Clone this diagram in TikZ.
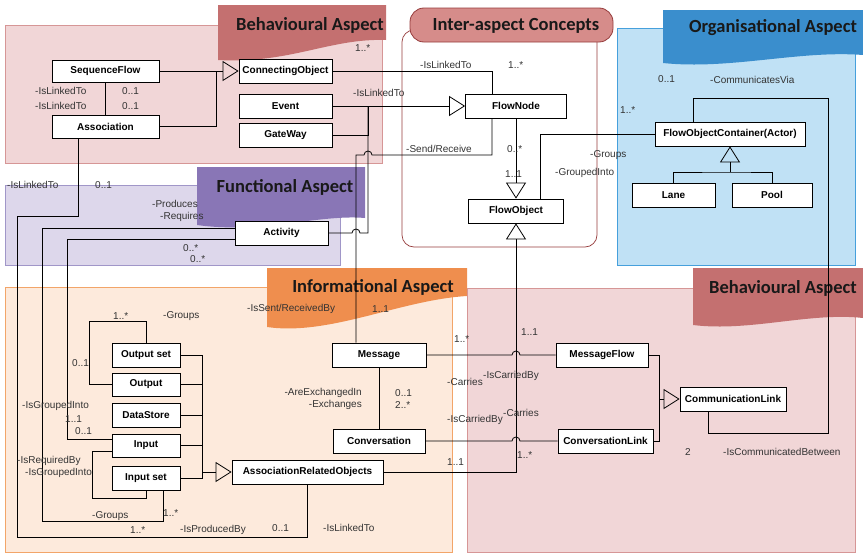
\documentclass[tikz,border=0pt]{standalone}
\usepackage{fontspec}
\setmainfont{Liberation Sans}
\newfontfamily\aspTitleFont{Carlito}
\usetikzlibrary{arrows.meta,calc}

\definecolor{behavFill}{RGB}{241,214,215}
\definecolor{behavEdge}{RGB}{214,150,150}
\definecolor{behavBanner}{RGB}{196,112,112}
\definecolor{interBanner}{RGB}{214,140,138}
\definecolor{interEdge}{RGB}{150,60,60}
\definecolor{orgFill}{RGB}{192,225,245}
\definecolor{orgEdge}{RGB}{70,160,220}
\definecolor{orgBanner}{RGB}{58,142,205}
\definecolor{funcFill}{RGB}{221,215,235}
\definecolor{funcEdge}{RGB}{160,150,200}
\definecolor{funcBanner}{RGB}{137,118,182}
\definecolor{infoFill}{RGB}{253,234,220}
\definecolor{infoEdge}{RGB}{242,165,105}
\definecolor{infoBanner}{RGB}{239,142,78}

\tikzset{
	aspbox/.style={
		draw,
		fill=white,
		line width=0.8pt,
		align=center,
		minimum height=24pt,
		inner sep=1pt,
		font=\fontsize{10}{12}\selectfont\bfseries
	},
	aspLabel/.style={inner sep=0pt, anchor=west, text=black!80, font=\fontsize{10}{12}\selectfont},
	aspTitle/.style={inner sep=0pt, text=black!90, font=\aspTitleFont\bfseries\fontsize{18.5}{20}\selectfont},
	aspPanel/.style={line width=0.6pt},
	aspLink/.style={line width=0.8pt},
	aspGen/.style={aspLink, -{Triangle[open, length=16pt, width=20pt]}}
}

\begin{document}
\begin{tikzpicture}[x=1pt, y=-1pt]
	\useasboundingbox (0,0) rectangle (863,554);

	% Aspect panels
	\filldraw[aspPanel, fill=behavFill, draw=behavEdge] (5,25) rectangle (382,163);
	\fill[behavBanner] (218,5) -- (386,5) -- (386,40) .. controls (330,38) and (290,64) .. (218,60) -- cycle;
	\filldraw[aspPanel, fill=funcFill, draw=funcEdge] (5,185) rectangle (340,265);
	\fill[funcBanner] (197,167) -- (365,167) -- (365,218) .. controls (320,214) and (260,234) .. (197,225) -- cycle;
	\filldraw[aspPanel, fill=orgFill, draw=orgEdge] (617,28) rectangle (855,265);
	\fill[orgBanner] (663,10) -- (863,10) -- (863,55) .. controls (800,50) and (730,70) .. (663,63) -- cycle;
	\filldraw[aspPanel, fill=infoFill, draw=infoEdge] (5,287) rectangle (452,552);
	\fill[infoBanner] (267,268) -- (467,268) -- (467,296) .. controls (400,300) and (330,336) .. (267,327) -- cycle;
	\filldraw[aspPanel, fill=behavFill, draw=behavEdge] (467,288) rectangle (855,552);
	\fill[behavBanner] (693,268) -- (863,268) -- (863,318) .. controls (810,312) and (750,332) .. (693,325) -- cycle;
	\draw[interEdge, line width=0.7pt, rounded corners=12pt] (402,30) rectangle (597,247);
	\filldraw[fill=interBanner, draw=interEdge, line width=0.8pt, rounded corners=14pt] (410,8) rectangle (613,42);

	% Titles
	\node[aspTitle] (tBehavTop) at (310,25) {Behavioural Aspect};
	\node[aspTitle] (tInter) at (516,26) {Inter-aspect Concepts};
	\node[aspTitle] (tOrg) at (773,28) {Organisational Aspect};
	\node[aspTitle] (tFunc) at (285,187) {Functional Aspect};
	\node[aspTitle] (tInfo) at (373,287) {Informational Aspect};
	\node[aspTitle] (tBehavBottom) at (783,288) {Behavioural Aspect};

	% Behavioural aspect (top)
	\node[aspbox, minimum width=107pt, minimum height=22pt] (sequenceFlow) at (105.5,71) {SequenceFlow};
	\node[aspbox, minimum width=107pt, minimum height=23pt] (association) at (105.5,126.5) {Association};
	\node[aspbox, minimum width=93pt] (connectingObject) at (285.5,71) {ConnectingObject};
	\node[aspbox, minimum width=93pt] (event) at (285.5,106) {Event};
	\node[aspbox, minimum width=93pt] (gateWay) at (285.5,135.5) {GateWay};

	% Inter-aspect concepts
	\node[aspbox, minimum width=101pt] (flowNode) at (516,106) {FlowNode};
	\node[aspbox, minimum width=95pt] (flowObject) at (516,211) {FlowObject};

	% Organisational aspect
	\node[aspbox, minimum width=150pt] (container) at (730,134) {FlowObjectContainer(Actor)};
	\node[aspbox, minimum width=83pt] (lane) at (673.5,195) {Lane};
	\node[aspbox, minimum width=80pt] (pool) at (772,195) {Pool};

	% Functional aspect
	\node[aspbox, minimum width=93pt] (activity) at (281.5,233) {Activity};

	% Informational aspect
	\node[aspbox, minimum width=68pt] (outputSet) at (146,355) {Output set};
	\node[aspbox, minimum width=68pt, minimum height=23pt] (output) at (146,384.5) {Output};
	\node[aspbox, minimum width=68pt] (dataStore) at (146,415) {DataStore};
	\node[aspbox, minimum width=68pt, minimum height=23pt] (input) at (146,445.5) {Input};
	\node[aspbox, minimum width=68pt] (inputSet) at (146,478) {Input set};
	\node[aspbox, minimum width=151pt] (assocObjects) at (307.5,472) {AssociationRelatedObjects};
	\node[aspbox, minimum width=94pt] (message) at (379,355) {Message};
	\node[aspbox, minimum width=92pt] (conversation) at (379,441) {Conversation};

	% Behavioural aspect (bottom)
	\node[aspbox, minimum width=92pt] (messageFlow) at (602,355) {MessageFlow};
	\node[aspbox, minimum width=95pt] (conversationLink) at (605.5,441) {ConversationLink};
	\node[aspbox, minimum width=106pt] (communicationLink) at (733,399) {CommunicationLink};

	% Generalisations
	\coordinate (coJoin) at (216,71);
	\coordinate (fnJoin) at (368,106);
	\coordinate (orgJoin) at (730,172);
	\coordinate (arJoin) at (202,472);
	\coordinate (clJoin) at (659,399);
	\draw[aspLink] (sequenceFlow.east) -- (coJoin);
	\draw[aspLink] (association.east) -| (coJoin);
	\draw[aspGen] (coJoin) -- (connectingObject.west);
	\draw[aspGen] (event.east) -- (flowNode.west);
	\draw[aspLink] (gateWay.east) -| (fnJoin);
	\draw[aspLink] (activity.east) -- (352,233) arc[start angle=180, end angle=360, radius=4] -| (fnJoin);
	\draw[aspGen] (flowNode.south) -- (flowObject.north);
	\draw[aspLink] (lane.north) |- (orgJoin) -| (pool.north);
	\draw[aspGen] (orgJoin) -- (container.south);
	\foreach \obj in {outputSet, output, dataStore, input, inputSet}
		\draw[aspLink] (\obj.east) -| (arJoin);
	\draw[aspGen] (arJoin) -- (assocObjects.west);
	\draw[aspGen] (assocObjects.east) -| (flowObject.south);
	\draw[aspLink] (messageFlow.east) -| (clJoin);
	\draw[aspLink] (conversationLink.east) -| (clJoin);
	\draw[aspGen] (clJoin) -- (communicationLink.west);

	% Associations
	\draw[aspLink] (sequenceFlow) -- (association);
	\draw[aspLink] (connectingObject.east) -| ([xshift=-24pt]flowNode.north);
	\draw[aspLink] ([xshift=-23pt]message.north) |- (364,155) arc[start angle=180, end angle=360, radius=4] -| ([xshift=-24pt]flowNode.south);
	\draw[aspLink] ([xshift=24pt]flowObject.north) |- (container.west);
	\draw[aspLink] ([xshift=-25pt]communicationLink.south) |- (828,433) -- (828,98) -| ([xshift=-37pt]container.north);
	\draw[aspLink] (outputSet.north) |- (89,321) |- (output.west);
	\draw[aspLink] ([yshift=-6pt]input.west) -| (92,498) -| (inputSet.south);
	\draw[aspLink] (message) -- (conversation);
	\draw[aspLink] (message.east) -- (512,355) arc[start angle=180, end angle=360, radius=4] -- (messageFlow.west);
	\draw[aspLink] (conversation.east) -- (512,441) arc[start angle=180, end angle=360, radius=4] -- (conversationLink.west);
	\draw[aspLink] ([xshift=-27pt]association.south) |- (17,216) -- (17,537) -| (assocObjects.south);
	\draw[aspLink] ([yshift=5pt]activity.west) -| (42,521) -| ([xshift=17pt]inputSet.south);
	\draw[aspLink] ([yshift=-6pt]activity.west) -| (67,439.5) -- ([yshift=6pt]input.west);

	% Role names and multiplicities
	\node[aspLabel] (lSeqRole1) at (35,91) {-IsLinkedTo};
	\node[aspLabel] (lSeqMult1) at (122,91) {0..1};
	\node[aspLabel] (lSeqRole2) at (35,106) {-IsLinkedTo};
	\node[aspLabel] (lSeqMult2) at (122,106) {0..1};
	\node[aspLabel] (lCoMult) at (355,48) {1..*};
	\node[aspLabel] (lEventRole) at (353,93) {-IsLinkedTo};
	\node[aspLabel] (lFnRole) at (420,65) {-IsLinkedTo};
	\node[aspLabel] (lFnMult) at (508,65) {1..*};
	\node[aspLabel] (lSendRole) at (406,149) {-Send/Receive};
	\node[aspLabel] (lSendMult) at (507,149) {0..*};
	\node[aspLabel] (lFoMult) at (505,174) {1..1};
	\node[aspLabel] (lGroupsRole) at (590,155) {-Groups};
	\node[aspLabel] (lGroupedRole) at (555,173) {-GroupedInto};
	\node[aspLabel] (lCommMult1) at (658,79) {0..1};
	\node[aspLabel] (lCommRole1) at (710,80) {-CommunicatesVia};
	\node[aspLabel] (lContMult) at (620,110) {1..*};
	\node[aspLabel] (lAssocRole) at (7,185) {-IsLinkedTo};
	\node[aspLabel] (lAssocMult) at (95,185) {0..1};
	\node[aspLabel] (lProduces) at (152,204) {-Produces};
	\node[aspLabel] (lRequires) at (160,217) {-Requires};
	\node[aspLabel] (lActMult1) at (183,248) {0..*};
	\node[aspLabel] (lActMult2) at (190,259) {0..*};
	\node[aspLabel] (lOutMult1) at (113,316) {1..*};
	\node[aspLabel] (lOutRole) at (163,316) {-Groups};
	\node[aspLabel] (lOutMult2) at (72,363) {0..1};
	\node[aspLabel] (lInRole1) at (22,406) {-IsGroupedInto};
	\node[aspLabel] (lInMult1) at (65,419) {1..1};
	\node[aspLabel] (lInMult2) at (75,431) {0..1};
	\node[aspLabel] (lInRole2) at (17,461) {-IsRequiredBy};
	\node[aspLabel] (lInRole3) at (25,473) {-IsGroupedInto};
	\node[aspLabel] (lSetRole) at (92,516) {-Groups};
	\node[aspLabel] (lSetMult1) at (163,513) {1..*};
	\node[aspLabel] (lSetMult2) at (130,530) {1..*};
	\node[aspLabel] (lProducedBy) at (180,530) {-IsProducedBy};
	\node[aspLabel] (lArMult) at (272,528) {0..1};
	\node[aspLabel] (lArRole) at (323,528) {-IsLinkedTo};
	\node[aspLabel] (lMsgRole) at (247,309) {-IsSent/ReceivedBy};
	\node[aspLabel] (lMsgMult) at (372,309) {1..1};
	\node[aspLabel] (lMfMult1) at (454,339) {1..*};
	\node[aspLabel] (lMfMult2) at (521,332) {1..1};
	\node[aspLabel] (lMfRole1) at (447,382) {-Carries};
	\node[aspLabel] (lMfRole2) at (483,376) {-IsCarriedBy};
	\node[aspLabel] (lClRole1) at (447,420) {-IsCarriedBy};
	\node[aspLabel] (lClRole2) at (503,413) {-Carries};
	\node[aspLabel, anchor=east] (lConvRole1) at (362,393) {-AreExchangedIn};
	\node[aspLabel, anchor=east] (lConvRole2) at (362,405) {-Exchanges};
	\node[aspLabel] (lConvMult1) at (395,393) {0..1};
	\node[aspLabel] (lConvMult2) at (395,405) {2..*};
	\node[aspLabel] (lClMult1) at (447,462) {1..1};
	\node[aspLabel] (lClMult2) at (517,455) {1..*};
	\node[aspLabel] (lCommMult2) at (685,452) {2};
	\node[aspLabel] (lCommRole2) at (723,452) {-IsCommunicatedBetween};

\end{tikzpicture}
\end{document}
